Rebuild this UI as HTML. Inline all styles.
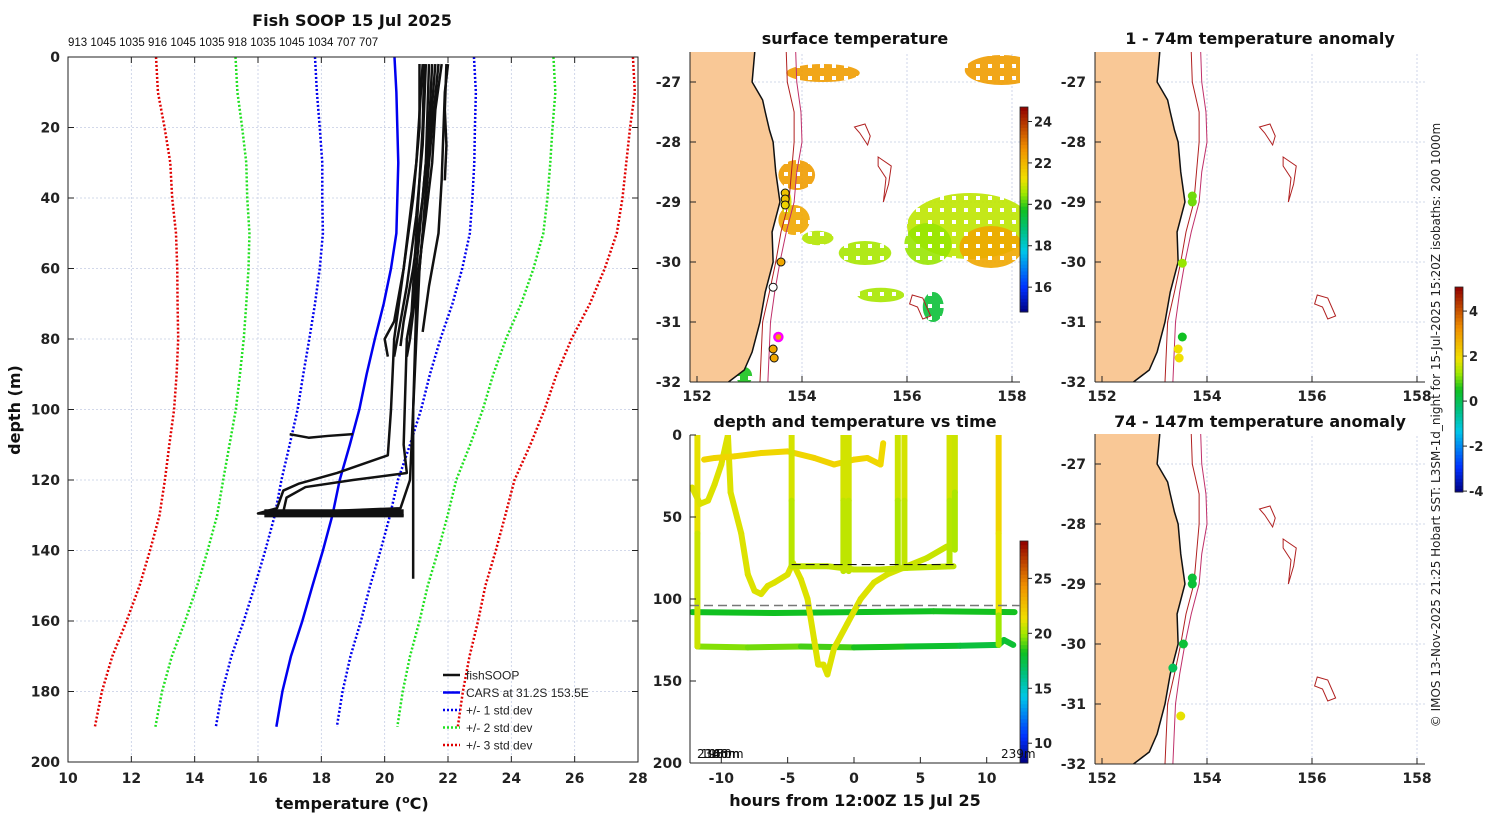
<!DOCTYPE html>
<html><head><meta charset="utf-8">
<style>
html,body{margin:0;padding:0;background:#fff;}
svg{display:block;font-family:"DejaVu Sans","Liberation Sans",sans-serif;}
.tk{font-size:14px;font-weight:bold;fill:#222;}
.ttl{font-size:16px;font-weight:bold;fill:#111;}
</style></head>
<body>
<svg id="fig" width="1500" height="820" viewBox="0 0 1500 820" xmlns="http://www.w3.org/2000/svg">
<defs>
<clipPath id="cpA"><rect x="68" y="57" width="570" height="705"/></clipPath>
<clipPath id="cpM0"><rect x="690" y="52" width="330" height="330"/></clipPath>
<clipPath id="cpM1"><rect x="1095" y="52" width="330" height="330"/></clipPath>
<clipPath id="cpM2"><rect x="1095" y="434" width="330" height="330"/></clipPath>
<clipPath id="cpT"><rect x="690" y="435" width="330" height="328"/></clipPath>
<pattern id="pxp" width="12" height="12" patternUnits="userSpaceOnUse">
<rect x="0" y="0" width="4" height="4" fill="#fff"/><rect x="4" y="0" width="4" height="4" fill="#fff"/><rect x="8" y="4" width="4" height="4" fill="#fff"/>
<rect x="0" y="4" width="4" height="4" fill="#fff"/><rect x="4" y="8" width="4" height="4" fill="#fff"/><rect x="8" y="8" width="4" height="4" fill="#fff"/>
<rect x="8" y="0" width="4" height="4" fill="#fff"/><rect x="0" y="8" width="4" height="4" fill="#fff"/>
</pattern>
<mask id="pxm" maskUnits="userSpaceOnUse" x="680" y="40" width="360" height="360"><rect x="680" y="40" width="360" height="360" fill="url(#pxp)"/></mask>
</defs>
<text class="ttl" x="352" y="26" text-anchor="middle">Fish SOOP 15 Jul 2025</text>
<text x="68" y="46" font-size="11.5" fill="#111" font-family="Liberation Sans, sans-serif">913 1045 1035 916 1045 1035 918 1035 1045 1034 707 707</text>
<text class="ttl" x="855" y="44" text-anchor="middle">surface temperature</text>
<text class="ttl" x="1260" y="44" text-anchor="middle">1 - 74m temperature anomaly</text>
<text class="ttl" x="855" y="427" text-anchor="middle">depth and temperature vs time</text>
<text class="ttl" x="1260" y="427" text-anchor="middle">74 - 147m temperature anomaly</text>
<text class="ttl" x="352" y="809" text-anchor="middle">temperature (<tspan font-size="11" dy="-6">o</tspan><tspan dy="6">C)</tspan></text>
<text class="ttl" x="20" y="410" text-anchor="middle" transform="rotate(-90 20 410)">depth (m)</text>
<text class="ttl" x="855" y="806" text-anchor="middle">hours from 12:00Z 15 Jul 25</text>
<text x="1440" y="425" font-size="12" fill="#222" text-anchor="middle" transform="rotate(-90 1440 425)">© IMOS 13-Nov-2025 21:25 Hobart SST: L3SM-1d_night for 15-Jul-2025 15:20Z isobaths: 200  1000m</text>
<g id="gA"></g><g id="gM"></g><g id="gT"></g>
</svg>
<script>
// ---------- profile chart data ----------
const depths=[0,10,20,30,40,50,60,70,80,90,100,110,120,130,140,150,160,170,180,190];
const carsMean=[20.31,20.37,20.4,20.43,20.4,20.37,20.2,19.97,19.69,19.43,19.2,18.9,18.58,18.35,18.05,17.72,17.4,17.04,16.77,16.58];
const carsStd=[2.51,2.51,2.45,2.4,2.37,2.32,2.25,2.17,2.07,2.0,1.95,1.9,1.84,1.82,1.82,1.82,1.85,1.88,1.9,1.91];
const xTicks=[10,12,14,16,18,20,22,24,26,28];
const yTicks=[0,20,40,60,80,100,120,140,160,180,200];
const fishTemps=[
[21.1,21.1,20.9,20.6,20.3,20.0,20.1],
[21.3,21.2,21.0,20.7,20.4,20.3],
[21.5,21.4,21.2,20.9,20.6,20.5],
[21.8,21.6,21.5,21.3,21.0,20.8,20.7],
[22.0,21.9,21.8,21.7,21.4,21.2],
[21.95,21.9,21.95,21.9],
[21.7,21.5,21.3,21.1,21.0,20.9,20.9,20.9],
[21.6,21.4,21.2,21.0,20.9,20.8,20.5,16.3],
[21.2,21.0,20.6,20.3,20.2,20.1,18.5,17.3,16.8,16.6,16.0,20.6],
[17.0,17.6,18.2,19.0],
[21.4,21.3,21.1,20.9,20.7,20.6,20.7,19.0,17.5,16.9,16.8],
[21.25,21.2,21.0,20.8]];
const fishDepths=[
[2,20,40,60,75,80,85],
[2,25,45,65,80,85],
[2,20,40,60,75,82],
[2,15,30,45,65,80,85],
[2,10,35,50,65,78],
[2,15,25,35],
[2,20,40,60,80,100,130,148],
[2,25,50,70,100,120,128,129.5],
[2,30,60,80,100,113,118,121,123,128,129.5,130],
[107,108,107.5,107],
[2,30,50,70,80,110,118,120,122,125,129],
[2,20,50,80]];
// ---------- map data ----------
const coastLat=[-26.5,-27,-27.3,-27.5,-27.8,-28,-28.5,-29,-29.5,-30,-30.5,-31,-31.5,-31.8,-32];
const coastLon=[153.1,153.05,153.25,153.3,153.38,153.45,153.5,153.58,153.43,153.45,153.3,153.2,153.05,152.9,152.6];
const iso200Lon=[153.7,153.72,153.85,153.85,153.8,153.75,153.6,153.5,153.38,153.25,153.2];
const iso1000Lon=[153.88,153.9,153.98,154.0,153.9,153.85,153.7,153.58,153.48,153.4,153.35];
const isoLat=[-26.5,-27,-27.5,-28,-28.5,-29,-29.5,-30,-30.5,-31,-32];
const smLon=[[155.0,155.2,155.3,155.25,155.1],[155.45,155.7,155.65,155.55,155.6,155.45],[156.1,156.3,156.45,156.3,156.2,156.05]];
const smLat=[[-27.75,-27.7,-27.9,-28.05,-27.85],[-28.25,-28.4,-28.7,-29.0,-28.6,-28.4],[-30.55,-30.6,-30.9,-30.95,-30.75,-30.7]];
const sstLon=[154.4,157.8,153.9,153.85,157.2,157.6,156.4,155.2,156.5,155.5,154.3,153.7,152.9];
const sstLat=[-26.85,-26.8,-28.55,-29.3,-29.4,-29.75,-29.7,-29.85,-30.75,-30.55,-29.6,-29.0,-31.9];
const sstRx=[0.7,0.7,0.35,0.3,1.2,0.6,0.45,0.5,0.2,0.45,0.3,0.1,0.15];
const sstRy=[0.15,0.25,0.25,0.25,0.55,0.35,0.35,0.2,0.25,0.12,0.12,0.2,0.15];
const sstTemp=[22.5,22.5,22.5,22.3,20.8,22.3,20.5,20.6,19.5,20.6,20.7,21.0,19.8];
const stLon=[153.68,153.68,153.68,153.6,153.45,153.55,153.45,153.47];
const stLat=[-28.85,-28.95,-29.05,-30.0,-30.42,-31.25,-31.45,-31.6];
const stSst=[21.8,21.8,21.5,22.3,null,22.3,22.3,22.3];
const anShLon=[153.72,153.72,153.53,153.53,153.45,153.47];
const anShLat=[-28.9,-29.0,-30.02,-31.25,-31.45,-31.6];
const anShVal=[1.0,1.0,1.2,0.5,1.9,1.9];
const anDpLon=[153.72,153.72,153.55,153.35,153.5];
const anDpLat=[-28.9,-29.0,-30.0,-30.4,-31.2];
const anDpVal=[0.3,0.3,0.3,0.0,1.8];
const lonTicks=[152,154,156,158];
const latTicks=[-27,-28,-29,-30,-31,-32];
// ---------- time chart data ----------
const hTicks=[-10,-5,0,5,10];
const dTicks=[0,50,100,150,200];
const trH=[
[-12.2,-6,0,6,12.1],
[-11.8,-8,-4,0,4,8,10.9,11.3,12],
[-11.8,-11.8,-11.8],
[-12.2,-11.6,-11,-10.5,-10,-9.5,-9.3,-8.5,-8,-7.5,-7,-6.5,-6,-5,-4.6,-4,-3.5,-3,-2.7,-2.3,-2,-1.5,-0.5,0.5,1.5,2.5,4,5.5,7],
[-11.3,-10.5,-9,-7,-5,-3,-1.5,0,1,2,2.2],
[-4.7,-4.7,-4.7],[-0.8,-0.8,-0.8],[-0.4,-0.4,-0.4],[3.3,3.3,3.3],[3.8,3.8,3.8],[7.2,7.2,7.2],[7.6,7.6,7.6],
[-4.7,-2,0,2,4,7.5],
[10.9,10.9,10.9,10.9]];
const trD=[
[108,108.5,108,107.5,108],
[129,129.5,129,129.5,129,128.5,128,125,128],
[0,60,129],
[32,42,40,30,18,0,35,60,85,95,97,92,90,85,78,88,100,125,140,140,146,130,115,100,90,85,80,75,68],
[15,14,13,11,10,14,18,15,14,18,5],
[0,40,80],[0,40,83],[0,40,83],[0,40,80],[0,40,80],[0,40,80],[0,35,70],
[80,80,82,82,81,80],
[0,60,110,128]];
const trT=[
[18.3,18.3,18.2,18.4,18.3],
[19.6,19.6,19.2,18.6,18.2,17.8,17.6,18.2,17.6],
[21.3,21.0,20.3],
[21.0,21.0,21.0,21.0,21.0,21.0,21.0,21.0,21.0,21.0,21.0,21.0,21.0,21.0,21.0,21.0,21.0,21.0,21.0,21.0,21.0,21.0,21.0,21.0,21.0,20.9,20.8,20.6,20.6],
[21.8,21.8,21.7,21.8,21.6,21.8,21.9,21.7,21.8,21.6,21.6],
[21.2,20.5,20.2],[21.0,20.6,20.3],[21.0,20.6,20.3],[21.0,20.4,20.0],[21.0,20.7,20.3],[21.0,20.6,20.0],[20.8,20.5,19.8],
[20.4,20.6,20.5,20.6,20.5,20.4],
[22.0,21.6,20.8,19.0]];
const grayDash=104, blackDash=79;

// ---------- helpers ----------
const NS="http://www.w3.org/2000/svg";
function mk(parent,tag,attrs){const e=document.createElementNS(NS,tag);for(const k in attrs)e.setAttribute(k,attrs[k]);parent.appendChild(e);return e;}
const stops=[[0,[0,0,128]],[0.12,[0,48,255]],[0.3,[0,200,232]],[0.4,[0,192,128]],[0.5,[16,192,32]],[0.58,[160,232,0]],[0.65,[240,224,0]],[0.8,[240,144,0]],[1,[144,0,0]]];
function cmap(v){v=Math.max(0,Math.min(1,v));for(let i=1;i<stops.length;i++){if(v<=stops[i][0]){const a=stops[i-1],b=stops[i],f=(v-a[0])/(b[0]-a[0]);const c=a[1].map((x,j)=>Math.round(x+(b[1][j]-x)*f));return `rgb(${c[0]},${c[1]},${c[2]})`;}}return 'rgb(144,0,0)';}
const GRID="#c4cce4";

// ---------- profile chart ----------
const gA=document.getElementById('gA');
const X=t=>68+(t-10)*570/18, Y=d=>57+d*705/200;
xTicks.forEach(t=>{const g=mk(gA,'line',{x1:X(t),x2:X(t),y1:57,y2:762,stroke:GRID,'stroke-width':0.8,'stroke-dasharray':'2,2'});

mk(gA,'line',{x1:X(t),x2:X(t),y1:57,y2:63,stroke:'#222'});mk(gA,'line',{x1:X(t),x2:X(t),y1:756,y2:762,stroke:'#222'});
const l=mk(gA,'text',{x:X(t),y:783,class:'tk','text-anchor':'middle'});l.textContent=t;
});
yTicks.forEach(d=>{const g=mk(gA,'line',{x1:68,x2:638,y1:Y(d),y2:Y(d),stroke:GRID,'stroke-width':0.8,'stroke-dasharray':'2,2'});

mk(gA,'line',{x1:68,x2:74,y1:Y(d),y2:Y(d),stroke:'#222'});mk(gA,'line',{x1:632,x2:638,y1:Y(d),y2:Y(d),stroke:'#222'});
const l=mk(gA,'text',{x:60,y:Y(d)+5,class:'tk','text-anchor':'end'});l.textContent=d;
});
const gAc=mk(gA,'g',{'clip-path':'url(#cpA)'});
const stdDefs=[[3,'#e00000'],[2,'#20e020'],[1,'#0000ee']];
stdDefs.forEach(([k,c])=>[-1,1].forEach(s=>{
 const pts=depths.map((d,i)=>X(carsMean[i]+s*k*carsStd[i])+','+Y(d)).join(' ');
 const p=mk(gAc,'polyline',{points:pts,fill:'none',stroke:c,'stroke-width':2.5,'stroke-dasharray':'2,2'});
 }));
const cm=mk(gAc,'polyline',{points:depths.map((d,i)=>X(carsMean[i])+','+Y(d)).join(' '),fill:'none',stroke:'#0000f0','stroke-width':2.5});

fishTemps.forEach((ts,j)=>{const p=mk(gAc,'polyline',{points:ts.map((t,i)=>X(t)+','+Y(fishDepths[j][i])).join(' '),fill:'none',stroke:'#111','stroke-width':2.5,'stroke-linejoin':'round'});
});
const band=mk(gAc,'rect',{x:X(16.2),y:Y(128.3),width:X(20.6)-X(16.2),height:Y(130.6)-Y(128.3),fill:'#111'});

mk(gA,'rect',{x:68,y:57,width:570,height:705,fill:'none',stroke:'#222','stroke-width':1});
const leg=[['fishSOOP','#111',''],['CARS at 31.2S 153.5E','#0000f0',''],['+/- 1 std dev','#0000ee','2,2'],['+/- 2 std dev','#20e020','2,2'],['+/- 3 std dev','#e00000','2,2']];
const lg=mk(gA,'g',{});
leg.forEach((e,i)=>{const y=675+i*17.5;const ln=mk(lg,'line',{x1:443,x2:460,y1:y,y2:y,stroke:e[1],'stroke-width':2.5});if(e[2])ln.setAttribute('stroke-dasharray',e[2]);
const t=mk(lg,'text',{x:466,y:y+4.5,'font-size':12,fill:'#222','font-family':'Liberation Sans, sans-serif'});t.textContent=e[0];
});

// ---------- maps ----------
const gM=document.getElementById('gM');
function drawMap(ox,oy,clip,name,kind){
 const mx=l=>697+(l-152)*52.5+ox, my=a=>82+(-27-a)*60+oy;
 const g=mk(gM,'g',{});
 const c=mk(g,'g',{'clip-path':'url(#'+clip+')'});
 lonTicks.forEach(l=>{mk(c,'line',{x1:mx(l),x2:mx(l),y1:my(-26.4),y2:my(-32),stroke:GRID,'stroke-width':0.8,'stroke-dasharray':'2,2'});});
 latTicks.forEach(a=>{mk(c,'line',{x1:ox+690,x2:ox+1020,y1:my(a),y2:my(a),stroke:GRID,'stroke-width':0.8,'stroke-dasharray':'2,2'});});
 if(kind==='sst'){const sg=mk(c,'g',{mask:'url(#pxm)'});sstLon.forEach((l,i)=>{const e=mk(sg,'ellipse',{cx:mx(l),cy:my(sstLat[i]),rx:sstRx[i]*52.5,ry:sstRy[i]*60,fill:cmap((sstTemp[i]-14.8)/9.9),opacity:0.9});
  });}
 let pts=coastLat.map((a,i)=>mx(coastLon[i])+','+my(a)).join(' ');
 pts+=' '+mx(151.5)+','+my(-32.1)+' '+mx(151.5)+','+my(-26.4);
 const land=mk(c,'polygon',{points:pts,fill:'#f9c896',stroke:'none'});
 const cl=mk(c,'polyline',{points:coastLat.map((a,i)=>mx(coastLon[i])+','+my(a)).join(' '),fill:'none',stroke:'#111','stroke-width':1.5});
 
 [iso200Lon,iso1000Lon].forEach((arr,k)=>{const p=mk(c,'polyline',{points:arr.map((l,i)=>mx(l)+','+my(isoLat[i])).join(' '),fill:'none',stroke:k?'#c0306a':'#b02020','stroke-width':1});
  });
 smLon.forEach((arr,j)=>{const p=mk(c,'polygon',{points:arr.map((l,i)=>mx(l)+','+my(smLat[j][i])).join(' '),fill:'none',stroke:'#b02020','stroke-width':1});
  });
 if(kind==='sst'){stLon.forEach((l,i)=>{const v=stSst[i];const m=mk(c,'circle',{cx:mx(l),cy:my(stLat[i]),r:4,fill:v===null?'#fff':cmap((v-14.8)/9.9),stroke:i===5?'#ff00ff':'#111','stroke-width':i===5?2.5:1});
  });}
 else{const L=kind==='sh'?anShLon:anDpLon,A=kind==='sh'?anShLat:anDpLat,V=kind==='sh'?anShVal:anDpVal;
  L.forEach((l,i)=>{const m=mk(c,'circle',{cx:mx(l),cy:my(A[i]),r:4.5,fill:cmap((V[i]+4.04)/9.11)});
  });}
 mk(g,'line',{x1:ox+690,x2:ox+690,y1:oy+52,y2:oy+382,stroke:'#222'});
 mk(g,'line',{x1:ox+690,x2:ox+1020,y1:oy+382,y2:oy+382,stroke:'#222'});
 lonTicks.forEach(l=>{mk(g,'line',{x1:mx(l),x2:mx(l),y1:oy+382,y2:oy+376,stroke:'#222'});
  const t=mk(g,'text',{x:mx(l),y:oy+401,class:'tk','text-anchor':'middle'});t.textContent=l;});
 latTicks.forEach(a=>{mk(g,'line',{x1:ox+690,x2:ox+696,y1:my(a),y2:my(a),stroke:'#222'});
  const t=mk(g,'text',{x:ox+681,y:my(a)+5,class:'tk','text-anchor':'end'});t.textContent=a;});
}
drawMap(0,0,'cpM0','sst-map','sst');
drawMap(405,0,'cpM1','anomaly-map-shallow','sh');
drawMap(405,382,'cpM2','anomaly-map-deep','dp');
function colorbar(x,y0,y1,vmin,vmax,ticks,name){
 const g=mk(gM,'g',{});
 const n=60,h=(y1-y0)/n;for(let i=0;i<n;i++)mk(g,'rect',{x:x,y:y1-(i+1)*h,width:8,height:h+0.5,fill:cmap((i+0.5)/n)});
 mk(g,'rect',{x:x,y:y0,width:8,height:y1-y0,fill:'none',stroke:'#222','stroke-width':0.8});
 ticks.forEach(v=>{const yy=y1-(v-vmin)/(vmax-vmin)*(y1-y0);mk(g,'line',{x1:x+8,x2:x+12,y1:yy,y2:yy,stroke:'#222'});
  const t=mk(g,'text',{x:x+14,y:yy+5,class:'tk'});t.setAttribute('style','font-size:13px');t.textContent=v;});
}
colorbar(1020,107,312,14.8,24.7,[16,18,20,22,24],'sst-colorbar');
colorbar(1020,541,763,8.2,28.4,[10,15,20,25],'time-colorbar');
colorbar(1455,287,492,-4.04,5.07,[-4,-2,0,2,4],'anomaly-colorbar');

// ---------- time chart ----------
const gT=document.getElementById('gT');
const TX=h=>854+h*13.27, TY=d=>435+d*328/200;
const tc=mk(gT,'g',{'clip-path':'url(#cpT)'});
trH.forEach((hs,j)=>{for(let i=0;i<hs.length-1;i++){const s=mk(tc,'line',{x1:TX(hs[i]),y1:TY(trD[j][i]),x2:TX(hs[i+1]),y2:TY(trD[j][i+1]),stroke:cmap(((trT[j][i]+trT[j][i+1])/2-8.2)/20.2),'stroke-width':6,'stroke-linecap':'round'});
 }});
const gd=mk(tc,'line',{x1:690,x2:1020,y1:TY(grayDash),y2:TY(grayDash),stroke:'#777','stroke-width':1.5,'stroke-dasharray':'9,5'});

const bd=mk(tc,'line',{x1:TX(-4.7),x2:TX(7.5),y1:TY(blackDash),y2:TY(blackDash),stroke:'#111','stroke-width':1.2,'stroke-dasharray':'9,5'});

mk(gT,'line',{x1:690,x2:690,y1:435,y2:763,stroke:'#222'});mk(gT,'line',{x1:690,x2:1020,y1:763,y2:763,stroke:'#222'});
hTicks.forEach(h=>{mk(gT,'line',{x1:TX(h),x2:TX(h),y1:763,y2:757,stroke:'#222'});const t=mk(gT,'text',{x:TX(h),y:783,class:'tk','text-anchor':'middle'});t.textContent=h;});
dTicks.forEach(d=>{mk(gT,'line',{x1:690,x2:696,y1:TY(d),y2:TY(d),stroke:'#222'});const t=mk(gT,'text',{x:682,y:TY(d)+5,class:'tk','text-anchor':'end'});t.textContent=d;});
['234m','198m','166m','150m','60m'].forEach((s,i)=>{const t=mk(gT,'text',{x:697+i*4,y:758,'font-size':12,fill:'#111'});t.textContent=s;});
const t239=mk(gT,'text',{x:1001,y:758,'font-size':12,fill:'#111'});t239.textContent='239m';


</script>
</body></html>
